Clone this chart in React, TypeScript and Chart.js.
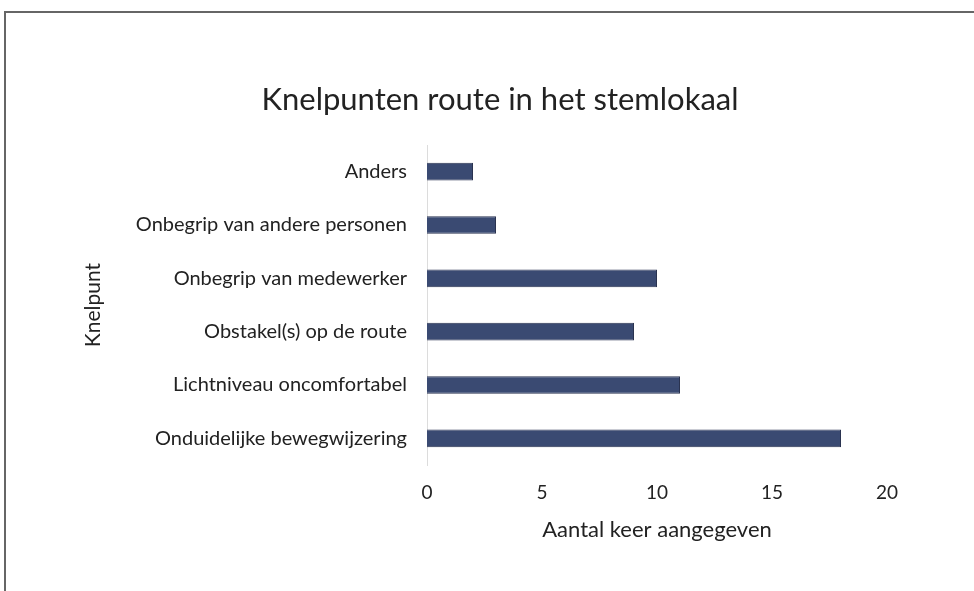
import React, { useEffect, useRef } from "react";
import { Chart, registerables } from "chart.js";

Chart.register(...registerables);

const title = "Knelpunten route in het stemlokaal";
const categories = [
  "Anders",
  "Onbegrip van andere personen",
  "Onbegrip van medewerker",
  "Obstakel(s) op de route",
  "Lichtniveau oncomfortabel",
  "Onduidelijke bewegwijzering",
];
const values = [2, 3, 10, 9, 11, 18];
const xTitle = "Aantal keer aangegeven";
const yTitle = "Knelpunt";

const FONT = "Lato, 'Open Sans', sans-serif";

export default function App() {
  const ref = useRef<HTMLCanvasElement | null>(null);
  useEffect(() => {
    if (!ref.current) return;
    const titlePlugin = {
      id: "customTitle",
      afterDraw(chart: any) {
        const ctx = chart.ctx;
        ctx.save();
        ctx.font = `31px ${FONT}`;
        ctx.fillStyle = "#222";
        ctx.textAlign = "center";
        ctx.textBaseline = "middle";
        ctx.fillText(title, 500, 100);
        ctx.restore();
      },
    };
    const chart = new Chart(ref.current, {
      type: "bar",
      data: {
        labels: categories,
        datasets: [
          {
            data: values,
            backgroundColor: "#3a4a72",
            borderColor: "#2a3350",
            borderWidth: 1,
            barPercentage: 0.66,
            categoryPercentage: 0.5,
          },
        ],
      },
      plugins: [titlePlugin],
      options: {
        indexAxis: "y",
        responsive: false,
        animation: false,
        layout: { padding: { left: 80, right: 87, top: 145, bottom: 40 } },
        plugins: { legend: { display: false }, tooltip: { enabled: false }, title: { display: false } },
        scales: {
          x: {
            min: 0,
            max: 20,
            ticks: { stepSize: 5, padding: 16, color: "#222", font: { family: FONT, size: 19 } },
            grid: { display: false, drawTicks: false },
            border: { display: false },
            title: { display: true, text: xTitle, color: "#222", font: { family: FONT, size: 22 }, padding: { top: 0, bottom: 8 } },
            afterFit: (s: any) => { s.height = 86; },
          },
          y: {
            ticks: { padding: 20, color: "#222", font: { family: FONT, size: 20 } },
            grid: { display: false, drawTicks: false },
            border: { display: true, color: "#dcdcdc", width: 1 },
            title: { display: true, text: yTitle, color: "#222", font: { family: FONT, size: 21 }, padding: { top: 1, bottom: 0 } },
            afterFit: (s: any) => { s.width = 347; },
          },
        },
      },
    });
    return () => chart.destroy();
  }, []);
  return (
    <div style={{ position: "fixed", left: 0, top: 0, width: 974, height: 591, background: "#fff" }}>
      <canvas ref={ref} width={974} height={591} style={{ position: "absolute", left: 0, top: 0 }} />
      <div style={{ position: "absolute", left: 4, top: 11, right: -4, bottom: -4, borderTop: "2px solid #666", borderLeft: "2px solid #666", pointerEvents: "none" }} />
    </div>
  );
}
